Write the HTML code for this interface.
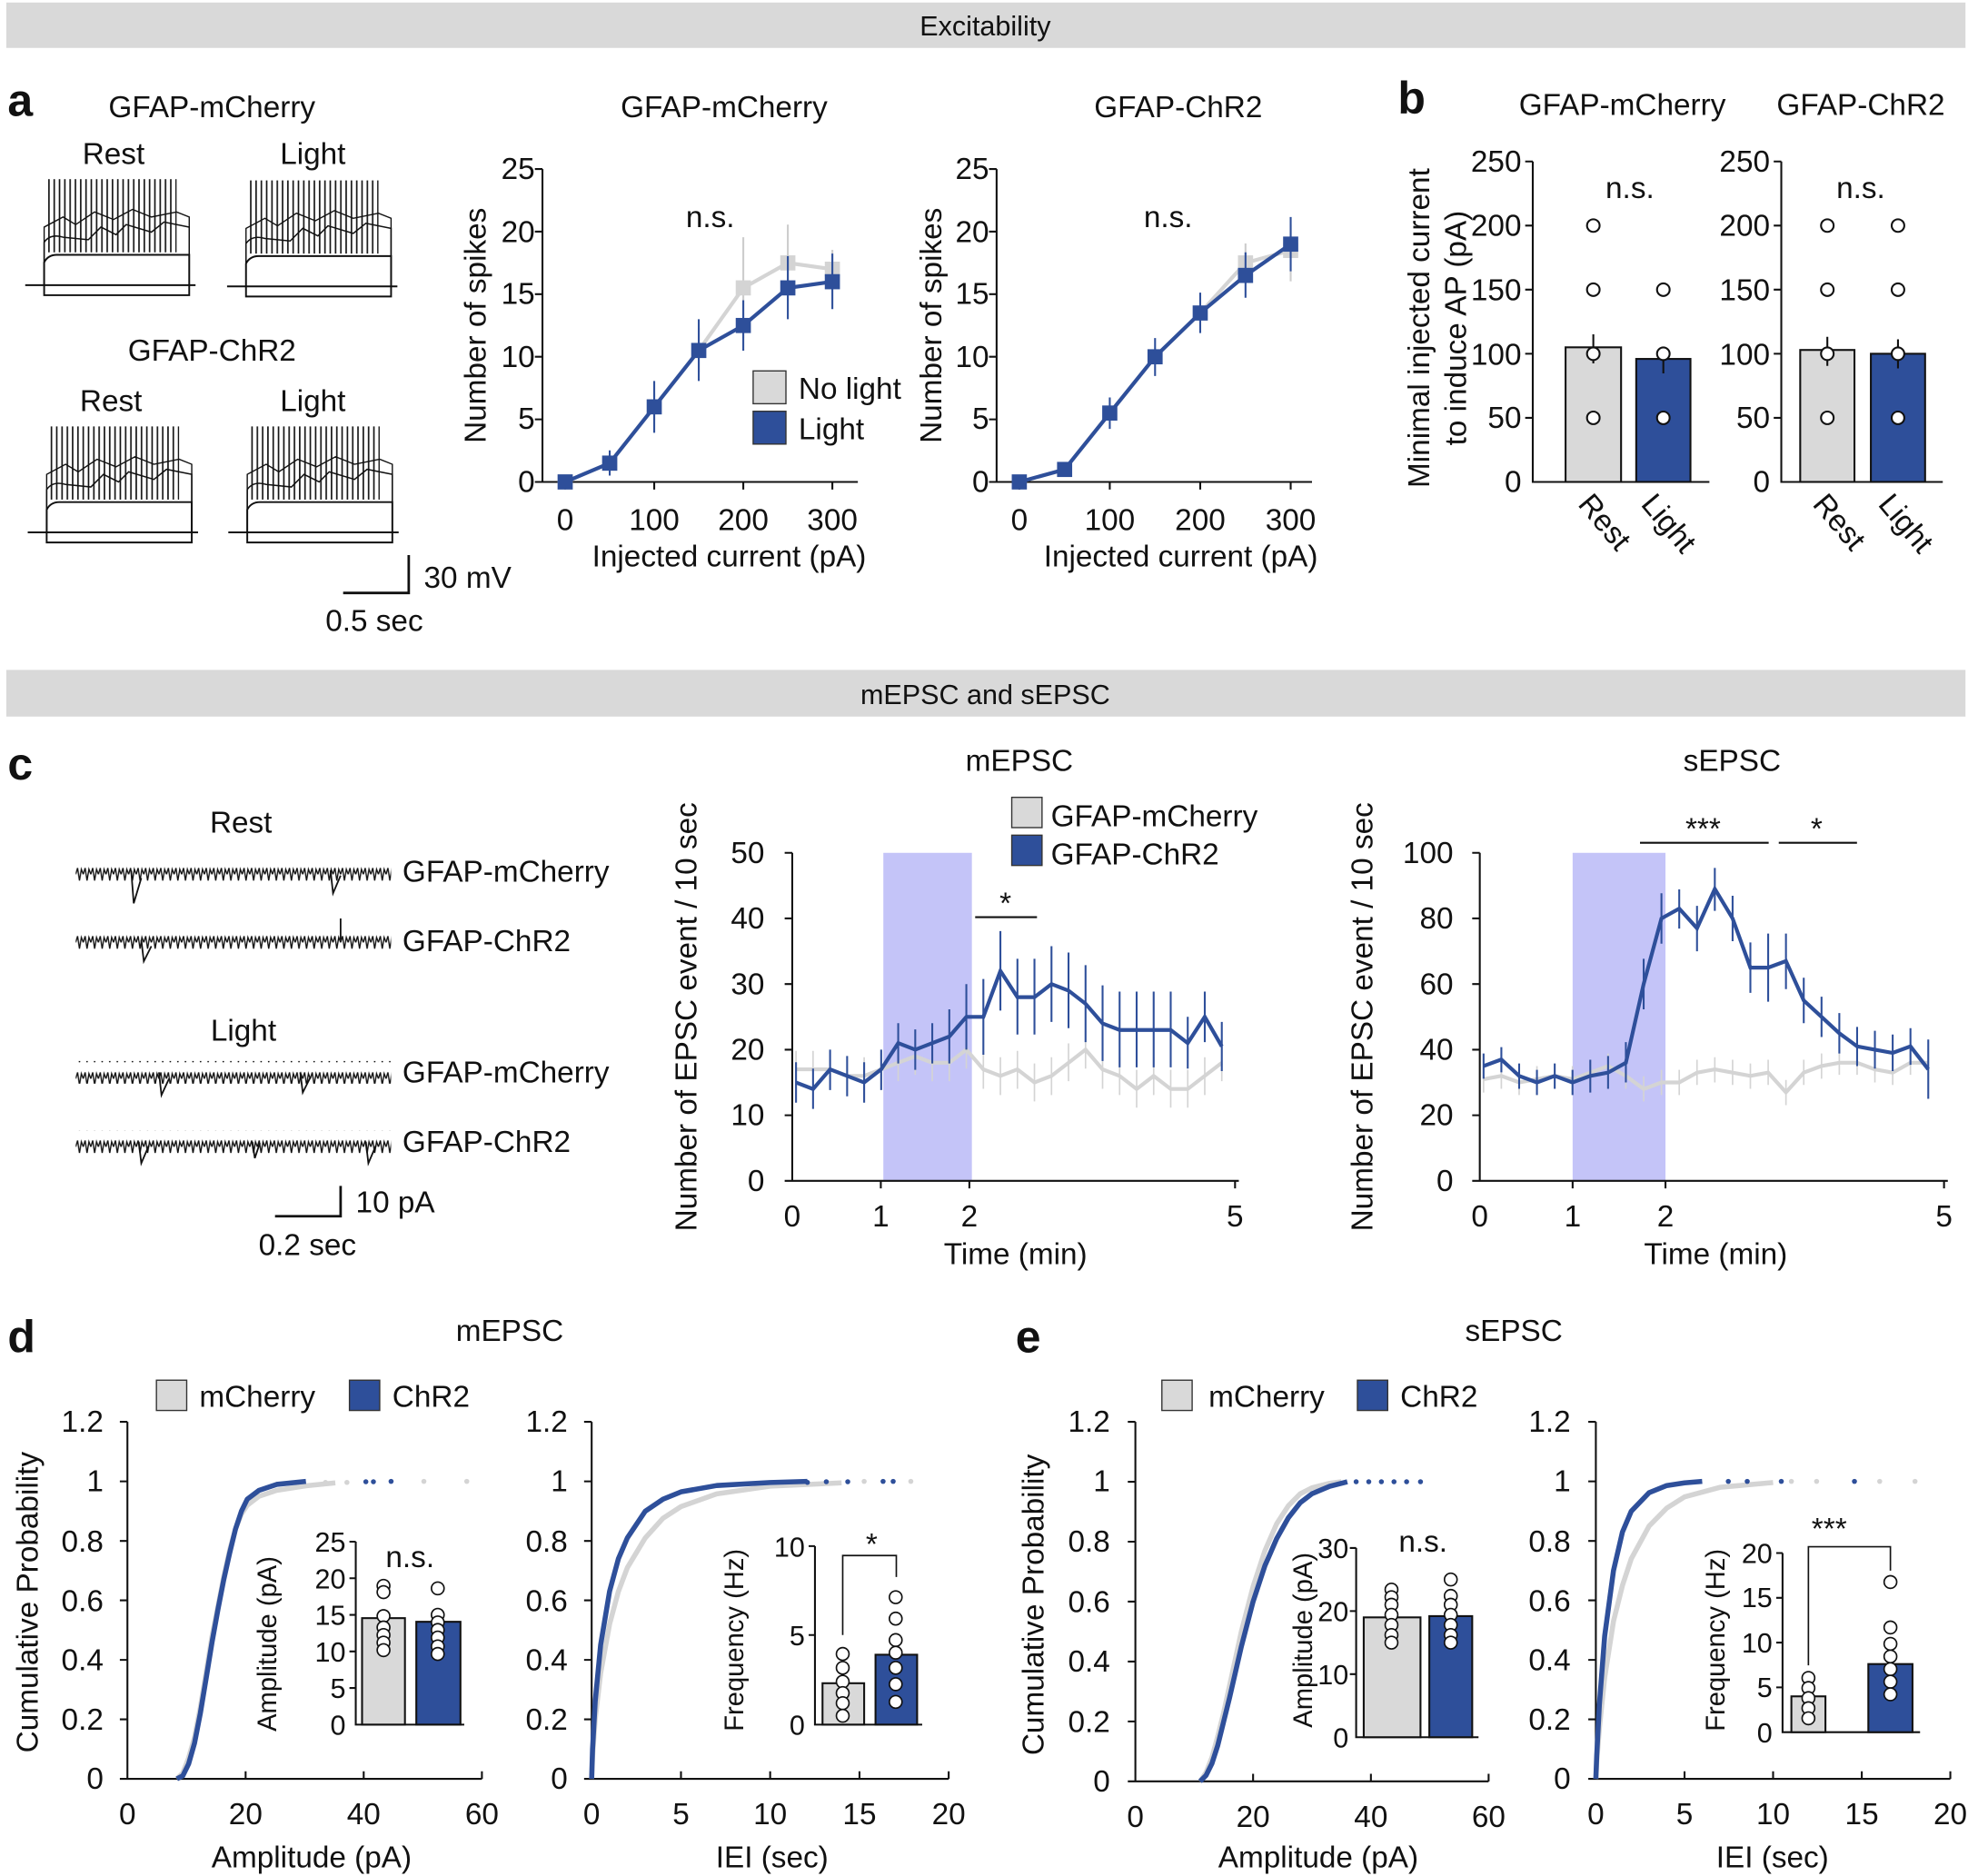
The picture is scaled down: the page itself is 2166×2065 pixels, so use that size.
<!DOCTYPE html>
<html><head><meta charset="utf-8"><style>
html,body{margin:0;padding:0;background:#fff}
svg{display:block}
text{font-family:"Liberation Sans",Arial,sans-serif;fill:#111}
</style></head><body>
<svg width="2166" height="2065" viewBox="0 0 1560 1487" preserveAspectRatio="none" xmlns="http://www.w3.org/2000/svg">
<defs>
<pattern id="sp" width="4.2" height="70" patternUnits="userSpaceOnUse"><line x1="1" y1="0" x2="1" y2="70" stroke="#111" stroke-width="1.2"/></pattern>
<pattern id="nz" width="6" height="18" patternUnits="userSpaceOnUse"><polyline points="0,9 1.5,4 3,14 4.5,5 6,9" fill="none" stroke="#111" stroke-width="1"/></pattern>
</defs>
<rect x="0" y="0" width="1560" height="1487" fill="#fff"/>
<rect x="5" y="2" width="1553" height="36" fill="#d9d9d9"/>
<text x="781" y="28" font-size="22" text-anchor="middle">Excitability</text>
<rect x="5" y="531" width="1553" height="37" fill="#d9d9d9"/>
<text x="781" y="558" font-size="22" text-anchor="middle">mEPSC and sEPSC</text>

<g font-size="24">
<text x="6" y="92" font-size="36" font-weight="bold">a</text>
<text x="1108" y="90" font-size="36" font-weight="bold">b</text>
<text x="6" y="618" font-size="36" font-weight="bold">c</text>
<text x="6" y="1072" font-size="36" font-weight="bold">d</text>
<text x="805" y="1072" font-size="36" font-weight="bold">e</text>

<text x="168" y="93" text-anchor="middle">GFAP-mCherry</text>
<text x="90" y="130" text-anchor="middle">Rest</text>
<text x="248" y="130" text-anchor="middle">Light</text>
<text x="168" y="286" text-anchor="middle">GFAP-ChR2</text>
<text x="88" y="326" text-anchor="middle">Rest</text>
<text x="248" y="326" text-anchor="middle">Light</text>
<text x="336" y="466">30 mV</text>
<text x="258" y="500">0.5 sec</text>

<text x="574" y="93" text-anchor="middle">GFAP-mCherry</text>
<text x="934" y="93" text-anchor="middle">GFAP-ChR2</text>
<text x="563" y="180" text-anchor="middle">n.s.</text>
<text x="926" y="180" text-anchor="middle">n.s.</text>
<text x="578" y="449" text-anchor="middle">Injected current (pA)</text>
<text x="936" y="449" text-anchor="middle">Injected current (pA)</text>
<text transform="translate(385,258) rotate(-90)" text-anchor="middle">Number of spikes</text>
<text transform="translate(746,258) rotate(-90)" text-anchor="middle">Number of spikes</text>
<text x="633" y="316">No light</text>
<text x="633" y="348">Light</text>

<text x="1286" y="91" text-anchor="middle">GFAP-mCherry</text>
<text x="1475" y="91" text-anchor="middle">GFAP-ChR2</text>
<text x="1292" y="157" text-anchor="middle">n.s.</text>
<text x="1475" y="157" text-anchor="middle">n.s.</text>
<text transform="translate(1133,260) rotate(-90)" text-anchor="middle">Minimal injected current</text>
<text transform="translate(1162,260) rotate(-90)" text-anchor="middle">to induce AP (pA)</text>
<text transform="translate(1250,400) rotate(50)">Rest</text>
<text transform="translate(1300,400) rotate(50)">Light</text>
<text transform="translate(1436,400) rotate(50)">Rest</text>
<text transform="translate(1488,400) rotate(50)">Light</text>

<text x="191" y="660" text-anchor="middle">Rest</text>
<text x="193" y="825" text-anchor="middle">Light</text>
<text x="319" y="699">GFAP-mCherry</text>
<text x="319" y="754">GFAP-ChR2</text>
<text x="319" y="858">GFAP-mCherry</text>
<text x="319" y="913">GFAP-ChR2</text>
<text x="282" y="961">10 pA</text>
<text x="205" y="995">0.2 sec</text>

<text x="808" y="611" text-anchor="middle">mEPSC</text>
<text x="1373" y="611" text-anchor="middle">sEPSC</text>
<text x="833" y="655">GFAP-mCherry</text>
<text x="833" y="685">GFAP-ChR2</text>
<text x="805" y="1002" text-anchor="middle">Time (min)</text>
<text x="1360" y="1002" text-anchor="middle">Time (min)</text>
<text transform="translate(552,806) rotate(-90)" text-anchor="middle">Number of EPSC event / 10 sec</text>
<text transform="translate(1088,806) rotate(-90)" text-anchor="middle">Number of EPSC event / 10 sec</text>
<text x="797" y="724" text-anchor="middle">*</text>
<text x="1350" y="665" text-anchor="middle">***</text>
<text x="1440" y="665" text-anchor="middle">*</text>

<text x="404" y="1063" text-anchor="middle">mEPSC</text>
<text x="1200" y="1063" text-anchor="middle">sEPSC</text>
<text x="158" y="1115">mCherry</text>
<text x="311" y="1115">ChR2</text>
<text x="958" y="1115">mCherry</text>
<text x="1110" y="1115">ChR2</text>
<text transform="translate(30,1270) rotate(-90)" text-anchor="middle">Cumulative Probability</text>
<text transform="translate(827,1272) rotate(-90)" text-anchor="middle">Cumulative Probability</text>
<text x="247" y="1480" text-anchor="middle">Amplitude (pA)</text>
<text x="612" y="1480" text-anchor="middle">IEI (sec)</text>
<text x="1045" y="1480" text-anchor="middle">Amplitude (pA)</text>
<text x="1405" y="1480" text-anchor="middle">IEI (sec)</text>
<text x="325" y="1242" text-anchor="middle">n.s.</text>
<text x="691" y="1232" text-anchor="middle">*</text>
<text x="1128" y="1230" text-anchor="middle">n.s.</text>
<text x="1450" y="1220" text-anchor="middle">***</text>
<text transform="translate(219,1303) rotate(-90)" text-anchor="middle" font-size="21">Amplitude (pA)</text>
<text transform="translate(589,1300) rotate(-90)" text-anchor="middle" font-size="21">Frequency (Hz)</text>
<text transform="translate(1040,1300) rotate(-90)" text-anchor="middle" font-size="21">Amplitude (pA)</text>
<text transform="translate(1367,1300) rotate(-90)" text-anchor="middle" font-size="21">Frequency (Hz)</text>
</g>

<g stroke="#333" stroke-width="1">
<rect x="597" y="294" width="26" height="26" fill="#d9d9d9"/>
<rect x="597" y="326" width="26" height="26" fill="#2e4f9a"/>
<rect x="802" y="632" width="24" height="24" fill="#d9d9d9"/>
<rect x="802" y="662" width="24" height="24" fill="#2e4f9a"/>
<rect x="124" y="1094" width="24" height="24" fill="#d9d9d9"/>
<rect x="277" y="1094" width="24" height="24" fill="#2e4f9a"/>
<rect x="921" y="1094" width="24" height="24" fill="#d9d9d9"/>
<rect x="1076" y="1094" width="24" height="24" fill="#2e4f9a"/>
</g>

<g stroke="#111" stroke-width="2" fill="none">
<path d="M272 470 H324 V440"/>
<path d="M218 964 H270 V940"/>
<path d="M773 727 H822 M1300 668 H1402 M1410 668 H1472" stroke-width="1.5"/>
</g>

<g stroke="#111" stroke-width="1.4" fill="none">
 <g id="tr">
 <rect x="36" y="142" width="104" height="58" fill="url(#sp)" stroke="none"/>
 <path d="M20 226 H155"/>
 <path d="M35 226 V234 H150 V226"/>
 <path d="M35 226 V208 Q38 202 45 202 H150 V226"/>
 <path d="M35 226 V192 Q40 185 50 188 L70 190 L80 180 L92 186 L100 178 L120 184 L130 176 L150 180 V226" stroke-width="1.1"/>
 <path d="M35 226 V180 L50 172 L60 178 L75 168 L90 174 L105 166 L120 172 L140 168 L150 172 V226" stroke-width="1"/>
 </g>
 <use href="#tr" x="160" y="1"/>
 <use href="#tr" x="2" y="196"/>
 <use href="#tr" x="161" y="196"/>
</g>

<g stroke="#111" stroke-width="1.5" fill="none">
<path d="M430 134 V382 H680 M424 134 H430 M424 183.6 H430 M424 233.2 H430 M424 282.8 H430 M424 332.4 H430 M424 382 H430 M448 382 V388 M518.6 382 V388 M589.2 382 V388 M659.8 382 V388"/>
<path d="M790 134 V382 H1040 M784 134 H790 M784 183.6 H790 M784 233.2 H790 M784 282.8 H790 M784 332.4 H790 M784 382 H790 M808 382 V388 M879.7 382 V388 M951.4 382 V388 M1023.1 382 V388"/>
</g>
<g font-size="24" text-anchor="end">
<text x="424" y="142">25</text><text x="424" y="192">20</text><text x="424" y="241">15</text><text x="424" y="291">10</text><text x="424" y="340">5</text><text x="424" y="390">0</text>
<text x="784" y="142">25</text><text x="784" y="192">20</text><text x="784" y="241">15</text><text x="784" y="291">10</text><text x="784" y="340">5</text><text x="784" y="390">0</text>
</g>
<g font-size="24" text-anchor="middle">
<text x="448" y="420">0</text><text x="518.6" y="420">100</text><text x="589.2" y="420">200</text><text x="659.8" y="420">300</text>
<text x="808" y="420">0</text><text x="879.7" y="420">100</text><text x="951.4" y="420">200</text><text x="1023.1" y="420">300</text>
</g>
<path d="M483.3 362 V372 M518.6 312 V333 M553.9 260 V295 M589.2 188 V268 M624.5 178 V238 M659.8 198 V228" stroke="#ccc" stroke-width="1.5"/>
<polyline points="448,382 483.3,367.1 518.6,322.5 553.9,277.8 589.2,228.2 624.5,208.4 659.8,213.4" fill="none" stroke="#d4d4d4" stroke-width="3"/>
<g fill="#d4d4d4"><rect x="442" y="376" width="12" height="12"/><rect x="477.3" y="361.1" width="12" height="12"/><rect x="583.2" y="222.2" width="12" height="12"/><rect x="618.5" y="202.4" width="12" height="12"/><rect x="653.8" y="207.4" width="12" height="12"/></g>
<path d="M483.3 357 V377 M518.6 302 V343 M553.9 253 V302 M589.2 238 V278 M624.5 203 V253 M659.8 201 V245" stroke="#2e4f9a" stroke-width="1.5"/>
<polyline points="448,382 483.3,367.1 518.6,322.5 553.9,277.8 589.2,258 624.5,228.2 659.8,223.3" fill="none" stroke="#2e4f9a" stroke-width="3"/>
<g fill="#2e4f9a"><rect x="442" y="376" width="12" height="12"/><rect x="477.3" y="361.1" width="12" height="12"/><rect x="512.6" y="316.5" width="12" height="12"/><rect x="547.9" y="271.8" width="12" height="12"/><rect x="583.2" y="252" width="12" height="12"/><rect x="618.5" y="222.2" width="12" height="12"/><rect x="653.8" y="217.3" width="12" height="12"/></g>
<path d="M987.3 193 V223 M1023.1 178 V223" stroke="#ccc" stroke-width="1.5"/>
<polyline points="808,382 843.9,372.1 879.7,327.4 915.6,282.8 951.4,248.1 987.3,208.4 1023.1,198.5" fill="none" stroke="#d4d4d4" stroke-width="3"/>
<g fill="#d4d4d4"><rect x="981.3" y="202.4" width="12" height="12"/><rect x="1017.1" y="192.5" width="12" height="12"/></g>
<path d="M843.9 367 V377 M879.7 315 V340 M915.6 268 V298 M951.4 232 V264 M987.3 200 V236 M1023.1 172 V215" stroke="#2e4f9a" stroke-width="1.5"/>
<polyline points="808,382 843.9,372.1 879.7,327.4 915.6,282.8 951.4,248.1 987.3,218.3 1023.1,193.5" fill="none" stroke="#2e4f9a" stroke-width="3"/>
<g fill="#2e4f9a"><rect x="802" y="376" width="12" height="12"/><rect x="837.9" y="366.1" width="12" height="12"/><rect x="873.7" y="321.4" width="12" height="12"/><rect x="909.6" y="276.8" width="12" height="12"/><rect x="945.4" y="242.1" width="12" height="12"/><rect x="981.3" y="212.3" width="12" height="12"/><rect x="1017.1" y="187.5" width="12" height="12"/></g>

<g stroke="#111" stroke-width="1.5" fill="none">
<path d="M1215 128 V382 H1355 M1209 128 H1215 M1209 178.8 H1215 M1209 229.6 H1215 M1209 280.4 H1215 M1209 331.2 H1215"/>
<path d="M1412 128 V382 H1540 M1406 128 H1412 M1406 178.8 H1412 M1406 229.6 H1412 M1406 280.4 H1412 M1406 331.2 H1412"/>
</g>
<g font-size="24" text-anchor="end">
<text x="1206" y="136">250</text><text x="1206" y="187">200</text><text x="1206" y="238">150</text><text x="1206" y="289">100</text><text x="1206" y="339">50</text><text x="1206" y="390">0</text>
<text x="1403" y="136">250</text><text x="1403" y="187">200</text><text x="1403" y="238">150</text><text x="1403" y="289">100</text><text x="1403" y="339">50</text><text x="1403" y="390">0</text>
</g>
<g stroke="#111" stroke-width="1.5">
<rect x="1241" y="275.3" width="44" height="106.7" fill="#d9d9d9"/>
<rect x="1297" y="284.5" width="43" height="97.5" fill="#2e4f9a"/>
<rect x="1427" y="277.4" width="43" height="104.6" fill="#d9d9d9"/>
<rect x="1483" y="280.4" width="43" height="101.6" fill="#2e4f9a"/>
<path d="M1263 265 V288 M1318.5 275 V296 M1448.5 267 V290 M1504.5 269 V292" fill="none"/>
</g>
<g fill="#fff" stroke="#111" stroke-width="1.5">
<circle cx="1263" cy="178.8" r="5"/><circle cx="1263" cy="229.6" r="5"/><circle cx="1263" cy="280.4" r="5"/><circle cx="1263" cy="331.2" r="5"/>
<circle cx="1318.5" cy="229.6" r="5"/><circle cx="1318.5" cy="280.4" r="5"/><circle cx="1318.5" cy="331.2" r="5"/>
<circle cx="1448.5" cy="178.8" r="5"/><circle cx="1448.5" cy="229.6" r="5"/><circle cx="1448.5" cy="280.4" r="5"/><circle cx="1448.5" cy="331.2" r="5"/>
<circle cx="1504.5" cy="178.8" r="5"/><circle cx="1504.5" cy="229.6" r="5"/><circle cx="1504.5" cy="280.4" r="5"/><circle cx="1504.5" cy="331.2" r="5"/>
</g>

<rect x="60" y="681" width="250" height="18" fill="url(#nz)"/>
<rect x="60" y="736" width="250" height="18" fill="url(#nz)"/>
<rect x="60" y="841" width="250" height="18" fill="url(#nz)"/>
<rect x="60" y="896" width="250" height="18" fill="url(#nz)"/>
<path d="M104 690 L106 716 L112 696 M262 690 L264 708 L270 694 M112 745 L114 762 L120 750 M270 745 V728 M126 850 L128 868 L134 855 M238 850 L240 866 L246 854 M110 905 L112 922 L118 908 M290 905 L292 922 L298 908 M200 905 L202 918 L206 906" stroke="#111" stroke-width="1.3" fill="none"/>

<rect x="700.2" y="676" width="70.2" height="260" fill="#c4c4f8"/>
<rect x="1246.6" y="676" width="73.6" height="260" fill="#c4c4f8"/>
<g stroke="#111" stroke-width="1.5" fill="none">
<path d="M628 676 V936 H982 M622 676 H628 M622 728 H628 M622 780 H628 M622 832 H628 M622 884 H628 M622 936 H628 M698.2 936 V942 M768.4 936 V942 M979 936 V942"/>
<path d="M1173 676 V936 H1544 M1167 676 H1173 M1167 728 H1173 M1167 780 H1173 M1167 832 H1173 M1167 884 H1173 M1167 936 H1173 M1246.6 936 V942 M1320.2 936 V942 M1541 936 V942"/>
</g>
<g font-size="24" text-anchor="end">
<text x="606" y="684">50</text><text x="606" y="736">40</text><text x="606" y="788">30</text><text x="606" y="840">20</text><text x="606" y="892">10</text><text x="606" y="944">0</text>
<text x="1152" y="684">100</text><text x="1152" y="736">80</text><text x="1152" y="788">60</text><text x="1152" y="840">40</text><text x="1152" y="892">20</text><text x="1152" y="944">0</text>
</g>
<g font-size="24" text-anchor="middle">
<text x="628" y="972">0</text><text x="698.2" y="972">1</text><text x="768.4" y="972">2</text><text x="979" y="972">5</text>
<text x="1173" y="972">0</text><text x="1246.6" y="972">1</text><text x="1320.2" y="972">2</text><text x="1541" y="972">5</text>
</g>
<path d="M631 833V863 M644.5 833V863 M658 833V863 M671.5 838V868 M685 838V868 M698.5 833V863 M712 827V857 M725.5 822V852 M739 827V857 M752.5 827V857 M766 817V847 M779.5 833V863 M793 838V868 M806.5 833V863 M820 843V873 M833.5 838V868 M847 827V857 M860.5 817V847 M874 833V863 M887.5 838V868 M901 848V878 M914.5 838V868 M928 848V878 M941.5 848V878 M955 838V868 M968.5 827V857" stroke="#d4d4d4" stroke-width="1.2"/>
<polyline points="631,847.6 644.5,847.6 658,847.6 671.5,852.8 685,852.8 698.5,847.6 712,842.4 725.5,837.2 739,842.4 752.5,842.4 766,832 779.5,847.6 793,852.8 806.5,847.6 820,858 833.5,852.8 847,842.4 860.5,832 874,847.6 887.5,852.8 901,863.2 914.5,852.8 928,863.2 941.5,863.2 955,852.8 968.5,842.4" fill="none" stroke="#d4d4d4" stroke-width="3"/>
<path d="M631 842V874 M644.5 847V879 M658 832V864 M671.5 837V869 M685 842V874 M698.5 832V864 M712 811V843 M725.5 816V848 M739 811V843 M752.5 800V843 M766 780V832 M779.5 776V836 M793 738V801 M806.5 760V820 M820 760V820 M833.5 750V810 M847 755V815 M860.5 765V826 M874 781V841 M887.5 786V846 M901 786V846 M914.5 786V846 M928 786V846 M941.5 806V847 M955 786V826 M968.5 810V849" stroke="#2e4f9a" stroke-width="1.5"/>
<polyline points="631,858 644.5,863.2 658,847.6 671.5,852.8 685,858 698.5,847.6 712,826.8 725.5,832 739,826.8 752.5,821.6 766,806 779.5,806 793,769.6 806.5,790.4 820,790.4 833.5,780 847,785.2 860.5,795.6 874,811.2 887.5,816.4 901,816.4 914.5,816.4 928,816.4 941.5,826.8 955,806 968.5,829.4" fill="none" stroke="#2e4f9a" stroke-width="3"/>
<path d="M1176 845V866 M1190.1 843V863 M1204.2 848V868 M1218.3 845V866 M1232.4 843V863 M1246.5 845V866 M1260.6 840V860 M1274.7 835V855 M1288.8 843V863 M1302.9 853V873 M1317 848V868 M1331.1 848V868 M1345.2 840V860 M1359.3 838V858 M1373.4 840V860 M1387.5 843V863 M1401.6 840V860 M1415.7 856V876 M1429.8 840V860 M1443.9 835V855 M1458 832V852 M1472.1 832V852 M1486.2 838V858 M1500.3 840V860 M1514.4 832V852 M1528.5 832V852" stroke="#d4d4d4" stroke-width="1.2"/>
<polyline points="1176,855.4 1190.1,852.8 1204.2,858 1218.3,855.4 1232.4,852.8 1246.5,855.4 1260.6,850.2 1274.7,845 1288.8,852.8 1302.9,863.2 1317,858 1331.1,858 1345.2,850.2 1359.3,847.6 1373.4,850.2 1387.5,852.8 1401.6,850.2 1415.7,865.8 1429.8,850.2 1443.9,845 1458,842.4 1472.1,842.4 1486.2,847.6 1500.3,850.2 1514.4,842.4 1528.5,842.4" fill="none" stroke="#d4d4d4" stroke-width="3"/>
<path d="M1176 835V855 M1190.1 830V850 M1204.2 843V863 M1218.3 848V868 M1232.4 843V863 M1246.5 848V868 M1260.6 840V866 M1274.7 837V863 M1288.8 826V858 M1302.9 760V800 M1317 708V748 M1331.1 705V736 M1345.2 718V754 M1359.3 688V722 M1373.4 710V746 M1387.5 747V787 M1401.6 740V794 M1415.7 740V784 M1429.8 775V811 M1443.9 790V822 M1458 803V835 M1472.1 814V845 M1486.2 817V847 M1500.3 820V849 M1514.4 815V844 M1528.5 824V871" stroke="#2e4f9a" stroke-width="1.5"/>
<polyline points="1176,845 1190.1,839.8 1204.2,852.8 1218.3,858 1232.4,852.8 1246.5,858 1260.6,852.8 1274.7,850.2 1288.8,842.4 1302.9,780 1317,728 1331.1,720.2 1345.2,735.8 1359.3,704.6 1373.4,728 1387.5,767 1401.6,767 1415.7,761.8 1429.8,793 1443.9,806 1458,819 1472.1,829.4 1486.2,832 1500.3,834.6 1514.4,829.4 1528.5,847.6" fill="none" stroke="#2e4f9a" stroke-width="3"/>

<g stroke="#111" stroke-width="1.5" fill="none">
<path d="M101 1127 V1410 H382 M95 1127 H101 M95 1174.2 H101 M95 1221.4 H101 M95 1268.5 H101 M95 1315.7 H101 M95 1362.8 H101 M95 1410 H101 M194.7 1410 V1404 M288.3 1410 V1404 M382 1410 V1404"/>
<path d="M469 1127 V1410 H752 M463 1127 H469 M463 1174.2 H469 M463 1221.4 H469 M463 1268.5 H469 M463 1315.7 H469 M463 1362.8 H469 M463 1410 H469 M539.8 1410 V1404 M610.5 1410 V1404 M681.3 1410 V1404 M752 1410 V1404"/>
<path d="M900 1127 V1412 H1180 M894 1127 H900 M894 1174.5 H900 M894 1222 H900 M894 1269.5 H900 M894 1317 H900 M894 1364.5 H900 M894 1412 H900 M993.3 1412 V1406 M1086.7 1412 V1406 M1180 1412 V1406"/>
<path d="M1265 1127 V1410 H1546 M1259 1127 H1265 M1259 1174.2 H1265 M1259 1221.4 H1265 M1259 1268.5 H1265 M1259 1315.7 H1265 M1259 1362.8 H1265 M1259 1410 H1265 M1335.3 1410 V1404 M1405.5 1410 V1404 M1475.8 1410 V1404 M1546 1410 V1404"/>
</g>
<g font-size="24" text-anchor="end">
<text x="82" y="1135">1.2</text><text x="82" y="1182">1</text><text x="82" y="1230">0.8</text><text x="82" y="1277">0.6</text><text x="82" y="1324">0.4</text><text x="82" y="1371">0.2</text><text x="82" y="1418">0</text>
<text x="450" y="1135">1.2</text><text x="450" y="1182">1</text><text x="450" y="1230">0.8</text><text x="450" y="1277">0.6</text><text x="450" y="1324">0.4</text><text x="450" y="1371">0.2</text><text x="450" y="1418">0</text>
<text x="880" y="1135">1.2</text><text x="880" y="1182">1</text><text x="880" y="1230">0.8</text><text x="880" y="1278">0.6</text><text x="880" y="1325">0.4</text><text x="880" y="1373">0.2</text><text x="880" y="1420">0</text>
<text x="1245" y="1135">1.2</text><text x="1245" y="1182">1</text><text x="1245" y="1230">0.8</text><text x="1245" y="1277">0.6</text><text x="1245" y="1324">0.4</text><text x="1245" y="1371">0.2</text><text x="1245" y="1418">0</text>
</g>
<g font-size="24" text-anchor="middle">
<text x="101" y="1446">0</text><text x="194.7" y="1446">20</text><text x="288.3" y="1446">40</text><text x="382" y="1446">60</text>
<text x="469" y="1446">0</text><text x="539.8" y="1446">5</text><text x="610.5" y="1446">10</text><text x="681.3" y="1446">15</text><text x="752" y="1446">20</text>
<text x="900" y="1448">0</text><text x="993.3" y="1448">20</text><text x="1086.7" y="1448">40</text><text x="1180" y="1448">60</text>
<text x="1265" y="1446">0</text><text x="1335.3" y="1446">5</text><text x="1405.5" y="1446">10</text><text x="1475.8" y="1446">15</text><text x="1546" y="1446">20</text>
</g>
<g fill="none" stroke-width="4" stroke-linejoin="round">
<polyline stroke="#d4d4d4" points="140.2,1410 144.9,1405.3 149.5,1393.5 154.2,1377 158.8,1353.4 163.5,1325.1 168.1,1296.8 172.8,1273.2 177.4,1249.7 182.1,1228.4 186.7,1211.9 191.4,1200.1 196,1193.1 205.3,1186 219.3,1181.3 242.5,1177.7 265.8,1175.4"/>
<polyline stroke="#2e4f9a" points="140.2,1410 144.9,1407.6 149.5,1398.2 154.2,1381.7 158.8,1358.1 163.5,1329.8 168.1,1301.5 172.8,1275.6 177.4,1252 182.1,1230.8 186.7,1211.9 191.4,1197.8 196,1188.3 205.3,1181.3 219.3,1176.6 242.5,1174.2"/>
<polyline stroke="#d4d4d4" points="469,1410 469.7,1392.6 471.8,1362.8 476.1,1326.3 483.2,1287.4 490.2,1261.4 497.3,1242.6 511.5,1219 525.6,1203.4 539.8,1194.2 568.1,1184.1 610.5,1178 667.1,1175.4"/>
<polyline stroke="#2e4f9a" points="469,1410 469.7,1386.4 471.8,1348.7 476.1,1303.9 483.2,1261.4 490.2,1235.5 497.3,1219 511.5,1197.8 525.6,1188.3 539.8,1182.5 568.1,1177.5 610.5,1175.1 640,1174.2"/>
<polyline stroke="#d4d4d4" points="951.3,1412 956,1404.9 960.7,1393 965.3,1376.4 970,1357.4 974.7,1336 984,1293.3 993.3,1257.6 1002.7,1229.1 1012,1207.8 1021.3,1193.5 1030.7,1184 1040,1179.3 1054,1175.7 1063.3,1174.5"/>
<polyline stroke="#2e4f9a" points="951.3,1412 956,1407.3 960.7,1397.8 965.3,1383.5 970,1364.5 974.7,1345.5 984,1305.1 993.3,1269.5 1002.7,1241 1012,1219.6 1021.3,1203 1030.7,1191.1 1040,1184 1054,1178.1 1068,1174.5"/>
<polyline stroke="#d4d4d4" points="1265,1410 1265.7,1396.6 1267.8,1369.9 1272,1329.8 1279,1285 1286.1,1256.7 1293.1,1235.5 1307.2,1209.6 1321.2,1195.4 1335.3,1186.5 1363.4,1178.9 1405.5,1175.1"/>
<polyline stroke="#2e4f9a" points="1265,1410 1265.7,1391.4 1267.8,1351 1272,1296.8 1279,1244.9 1286.1,1214.3 1293.1,1197.8 1307.2,1183.2 1321.2,1177.5 1335.3,1175.4 1349.3,1174.2"/>
</g>
<g>
<circle cx="258" cy="1175" r="2" fill="#d4d4d4"/><circle cx="275" cy="1175" r="2" fill="#d4d4d4"/><circle cx="290" cy="1174.5" r="2" fill="#2e4f9a"/><circle cx="296" cy="1174.5" r="2" fill="#2e4f9a"/><circle cx="310" cy="1174.2" r="2" fill="#2e4f9a"/><circle cx="336" cy="1174.2" r="2" fill="#d4d4d4"/><circle cx="370" cy="1174.2" r="2" fill="#d4d4d4"/>
<circle cx="640" cy="1175" r="2" fill="#2e4f9a"/><circle cx="655" cy="1174.5" r="2" fill="#2e4f9a"/><circle cx="672" cy="1174.5" r="2" fill="#2e4f9a"/><circle cx="685" cy="1174.2" r="2" fill="#d4d4d4"/><circle cx="700" cy="1174.2" r="2" fill="#2e4f9a"/><circle cx="708" cy="1174.2" r="2" fill="#2e4f9a"/><circle cx="722" cy="1174.2" r="2" fill="#d4d4d4"/>
<circle cx="1075" cy="1174.5" r="2" fill="#2e4f9a"/><circle cx="1085" cy="1174.5" r="2" fill="#2e4f9a"/><circle cx="1095" cy="1174.5" r="2" fill="#2e4f9a"/><circle cx="1105" cy="1174.5" r="2" fill="#2e4f9a"/><circle cx="1115" cy="1174.5" r="2" fill="#2e4f9a"/><circle cx="1126" cy="1174.5" r="2" fill="#2e4f9a"/>
<circle cx="1370" cy="1174.2" r="2" fill="#2e4f9a"/><circle cx="1385" cy="1174.2" r="2" fill="#2e4f9a"/><circle cx="1412" cy="1174.2" r="2" fill="#2e4f9a"/><circle cx="1420" cy="1174.2" r="2" fill="#d4d4d4"/><circle cx="1440" cy="1174.2" r="2" fill="#d4d4d4"/><circle cx="1470" cy="1174.2" r="2" fill="#2e4f9a"/><circle cx="1490" cy="1174.2" r="2" fill="#d4d4d4"/><circle cx="1518" cy="1174.2" r="2" fill="#d4d4d4"/>
</g>

<g stroke="#111" stroke-width="1.5" fill="none">
<path d="M282 1222 V1367 H368 M277 1222 H282 M277 1251 H282 M277 1280 H282 M277 1309 H282 M277 1338 H282"/>
<path d="M646 1225.5 V1367 H731 M641 1225.5 H646 M641 1296 H646"/>
<path d="M1075 1227 V1377 H1172 M1070 1227 H1075 M1070 1277 H1075 M1070 1327 H1075"/>
<path d="M1413 1231 V1373 H1522 M1408 1231 H1413 M1408 1266.5 H1413 M1408 1302 H1413 M1408 1337.5 H1413"/>
<path d="M668 1296 V1233 H710.5 V1250 M1433.5 1320 V1226 H1498.5 V1245" stroke-width="1.2"/>
</g>
<g font-size="22" text-anchor="end">
<text x="274" y="1230">25</text><text x="274" y="1259">20</text><text x="274" y="1288">15</text><text x="274" y="1317">10</text><text x="274" y="1346">5</text><text x="274" y="1375">0</text>
<text x="638" y="1234">10</text><text x="638" y="1304">5</text><text x="638" y="1375">0</text>
<text x="1069" y="1235">30</text><text x="1069" y="1285">20</text><text x="1069" y="1335">10</text><text x="1069" y="1385">0</text>
<text x="1405" y="1239">20</text><text x="1405" y="1274">15</text><text x="1405" y="1310">10</text><text x="1405" y="1345">5</text><text x="1405" y="1381">0</text>
</g>
<g stroke="#111" stroke-width="1.5">
<rect x="287" y="1282.6" width="34" height="84.4" fill="#d9d9d9"/>
<rect x="330" y="1285.5" width="35" height="81.5" fill="#2e4f9a"/>
<rect x="652" y="1334.2" width="33" height="32.8" fill="#d9d9d9"/>
<rect x="694" y="1311.6" width="33" height="55.4" fill="#2e4f9a"/>
<rect x="1081" y="1282" width="45" height="95" fill="#d9d9d9"/>
<rect x="1133" y="1281" width="34" height="96" fill="#2e4f9a"/>
<rect x="1420" y="1344.6" width="27" height="28.4" fill="#d9d9d9"/>
<rect x="1481" y="1319" width="35" height="54" fill="#2e4f9a"/>
</g>
<g fill="#fff" stroke="#111" stroke-width="1.2">
<circle cx="304" cy="1257" r="5"/><circle cx="304" cy="1262" r="5"/><circle cx="304" cy="1281" r="5"/><circle cx="304" cy="1290" r="5"/><circle cx="304" cy="1296" r="5"/><circle cx="304" cy="1302" r="5"/><circle cx="304" cy="1308" r="5"/>
<circle cx="347" cy="1259" r="5"/><circle cx="347" cy="1280" r="5"/><circle cx="347" cy="1286" r="5"/><circle cx="347" cy="1292" r="5"/><circle cx="347" cy="1298" r="5"/><circle cx="347" cy="1305" r="5"/><circle cx="347" cy="1311" r="5"/>
<circle cx="668" cy="1311" r="5"/><circle cx="668" cy="1322" r="5"/><circle cx="668" cy="1333" r="5"/><circle cx="668" cy="1342" r="5"/><circle cx="668" cy="1350" r="5"/><circle cx="668" cy="1360" r="5"/>
<circle cx="710" cy="1266" r="5"/><circle cx="710" cy="1283" r="5"/><circle cx="710" cy="1300" r="5"/><circle cx="710" cy="1310" r="5"/><circle cx="710" cy="1322" r="5"/><circle cx="710" cy="1335" r="5"/><circle cx="710" cy="1349" r="5"/>
<circle cx="1103" cy="1260" r="5"/><circle cx="1103" cy="1266" r="5"/><circle cx="1103" cy="1272" r="5"/><circle cx="1103" cy="1280" r="5"/><circle cx="1103" cy="1288" r="5"/><circle cx="1103" cy="1296" r="5"/><circle cx="1103" cy="1302" r="5"/>
<circle cx="1150" cy="1252" r="5"/><circle cx="1150" cy="1265" r="5"/><circle cx="1150" cy="1272" r="5"/><circle cx="1150" cy="1280" r="5"/><circle cx="1150" cy="1288" r="5"/><circle cx="1150" cy="1296" r="5"/><circle cx="1150" cy="1302" r="5"/>
<circle cx="1433.5" cy="1330" r="5"/><circle cx="1433.5" cy="1338" r="5"/><circle cx="1433.5" cy="1346" r="5"/><circle cx="1433.5" cy="1354" r="5"/><circle cx="1433.5" cy="1362" r="5"/>
<circle cx="1498.5" cy="1254" r="5"/><circle cx="1498.5" cy="1290" r="5"/><circle cx="1498.5" cy="1303" r="5"/><circle cx="1498.5" cy="1313" r="5"/><circle cx="1498.5" cy="1323" r="5"/><circle cx="1498.5" cy="1333" r="5"/><circle cx="1498.5" cy="1343" r="5"/>
</g>
</svg>
</body></html>
